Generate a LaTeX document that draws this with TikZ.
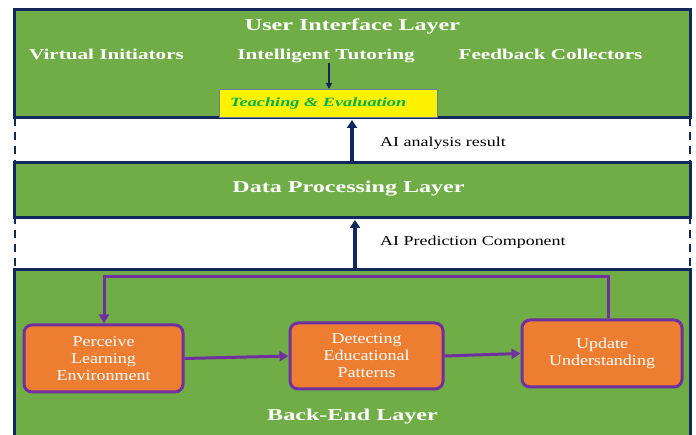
\documentclass[tikz,border=0pt]{standalone}
\usepackage{fontspec}
\setmainfont{Liberation Serif}
\newfontfamily\wideA[FakeStretch=1.45]{Liberation Serif}
\newfontfamily\wideD[FakeStretch=1.41]{Liberation Serif}
\newfontfamily\wideB[FakeStretch=1.32]{Liberation Serif}
\newfontfamily\wideC[FakeStretch=1.2]{Liberation Serif}
\usetikzlibrary{arrows.meta}
\definecolor{lgreen}{HTML}{70AD47}
\definecolor{navy}{HTML}{10285E}
\definecolor{orng}{HTML}{ED7D31}
\definecolor{purp}{HTML}{7030A0}
\definecolor{tgreen}{HTML}{00B050}
\tikzset{
  layer/.style={draw=navy, line width=3pt, fill=lgreen},
  ltitle/.style={text=white, anchor=base, inner sep=0pt, font=\wideA\fontsize{16.6}{19}\selectfont\bfseries},
  item/.style={text=white, anchor=base, inner sep=0pt, font=\wideD\fontsize{15}{17}\selectfont\bfseries},
  proc/.style={draw=purp, line width=3pt, fill=orng, rounded corners=8pt, text=white, align=center, font=\wideC\fontsize{15}{17}\selectfont},
  note/.style={text=black, font=\wideB\fontsize{13.6}{15}\selectfont, anchor=base west, inner sep=0pt},
  uparrow/.style={draw=navy, line width=3.4pt, -{Triangle[length=8pt,width=10pt]}},
  parrow/.style={draw=purp, line width=3pt, -{Triangle[length=9pt,width=10pt]}},
}
\begin{document}
\begin{tikzpicture}[x=1pt,y=-1pt]
\useasboundingbox (0,0) rectangle (696,435);
% dashed side lines
\draw[navy, line width=2pt, dash pattern=on 8pt off 6pt] (15,118) -- (15,270);
\draw[navy, line width=2pt, dash pattern=on 8pt off 6pt] (690,118) -- (690,270);
% layers
\draw[layer] (14,10) rectangle (690,118);
\node[ltitle] (uit) at (352.5,30.7) {User Interface Layer};
\node[item] (vi) at (106.5,60) {Virtual Initiators};
\node[item] (it) at (326,60) {Intelligent Tutoring};
\node[item] (fc) at (550.5,60) {Feedback Collectors};
\node[draw=navy!60, line width=0.8pt, fill=yellow, minimum width=218pt, minimum height=28pt, anchor=north west, inner sep=0pt] (te) at (219,89) {};
\node[text=tgreen, font=\wideA\fontsize{12.6}{14}\selectfont\bfseries\itshape, anchor=base west, inner sep=0pt] (tet) at (230,106.7) {Teaching \& Evaluation};
\coordinate (ita) at (329,63);
\draw[draw=navy, line width=1.8pt, -{Triangle[length=6pt,width=6pt]}] (ita) -- (te.north -| ita);

\draw[layer] (14,163) rectangle (690,218);
\node[ltitle] (dp) at (348.5,192.7) {Data Processing Layer};

\draw[layer] (14,270) rectangle (690,438);
\node[ltitle] (be) at (352.5,420.7) {Back-End Layer};

\coordinate (uib) at (352,120);
\coordinate (dpt) at (352,162);
\coordinate (dpb) at (355,220);
\coordinate (bet) at (355,269);
\draw[uparrow] (dpt) -- (uib);
\draw[uparrow] (bet) -- (dpb);
\node[note] (l1) at (380,146.7) {AI analysis result};
\node[note] (l2) at (380,245.7) {AI Prediction Component};

% processes
\node[proc, minimum width=159pt, minimum height=67pt] (p1) at (103.5,358.5) {Perceive\\Learning\\Environment};
\node[proc, minimum width=153pt, minimum height=66pt] (p2) at (366.5,356) {Detecting\\Educational\\Patterns};
\node[proc, minimum width=160pt, minimum height=67pt] (p3) at (602,353.5) {Update\\Understanding};
\draw[parrow] (p1.east) -- (p2.west);
\draw[parrow] (p2.east) -- (p3.west);
\draw[parrow] (p3.north -| 608,0) -- (608,277) -- (104,277) -- (p1.north -| 104,0);
\end{tikzpicture}
\end{document}
